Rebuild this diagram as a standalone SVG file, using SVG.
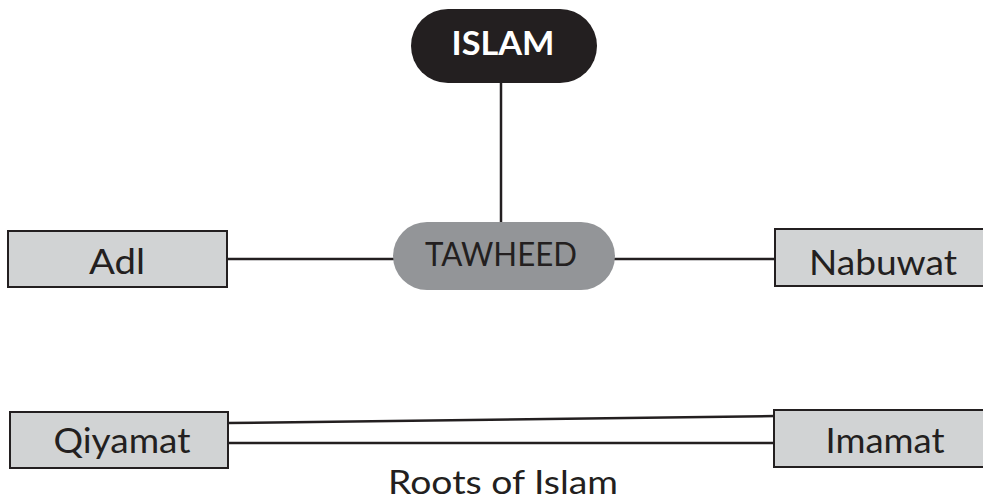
<svg xmlns="http://www.w3.org/2000/svg" width="983" height="502" viewBox="0 0 983 502">
<style>
.box{fill:#d1d3d4;stroke:#231f20;stroke-width:2}
.lbl{font-family:Lato,"Liberation Sans",sans-serif;font-size:35px;fill:#231f20;text-anchor:middle}
.con{stroke:#231f20;stroke-width:2.5;fill:none}
</style>
<rect width="983" height="502" fill="#fff"/>
<g id="connectors">
<line class="con" x1="501" y1="82" x2="501" y2="223"/>
<line class="con" x1="227" y1="259" x2="394" y2="259"/>
<line class="con" x1="614" y1="259" x2="775" y2="259"/>
<line class="con" x1="228" y1="423" x2="775" y2="416"/>
<line class="con" x1="228" y1="443" x2="775" y2="443"/>
</g>
<g id="islam">
<rect x="411" y="9" width="186" height="74" rx="37" fill="#231f20"/>
<text x="503" y="55" class="lbl" style="fill:#fff;font-weight:bold;font-size:32px" textLength="103" lengthAdjust="spacingAndGlyphs">ISLAM</text>
</g>
<g id="tawheed">
<rect x="393" y="222" width="222" height="68" rx="34" fill="#939598"/>
<text x="501" y="266" class="lbl" style="font-size:33px" textLength="152" lengthAdjust="spacingAndGlyphs">TAWHEED</text>
</g>
<g id="adl">
<rect class="box" x="8" y="231" width="219" height="56"/>
<text x="117" y="274" class="lbl" textLength="56" lengthAdjust="spacingAndGlyphs">Adl</text>
</g>
<g id="nabuwat">
<rect class="box" x="775" y="229" width="212" height="57"/>
<text x="883" y="275" class="lbl" textLength="148" lengthAdjust="spacingAndGlyphs">Nabuwat</text>
</g>
<g id="qiyamat">
<rect class="box" x="10" y="412" width="218" height="56"/>
<text x="122" y="453" class="lbl" textLength="137" lengthAdjust="spacingAndGlyphs">Qiyamat</text>
</g>
<g id="imamat">
<rect class="box" x="774" y="410" width="213" height="57"/>
<text x="885" y="453" class="lbl" textLength="119" lengthAdjust="spacingAndGlyphs">Imamat</text>
</g>
<text x="503" y="494" class="lbl" style="font-size:32px" textLength="230" lengthAdjust="spacingAndGlyphs">Roots of Islam</text>
</svg>
